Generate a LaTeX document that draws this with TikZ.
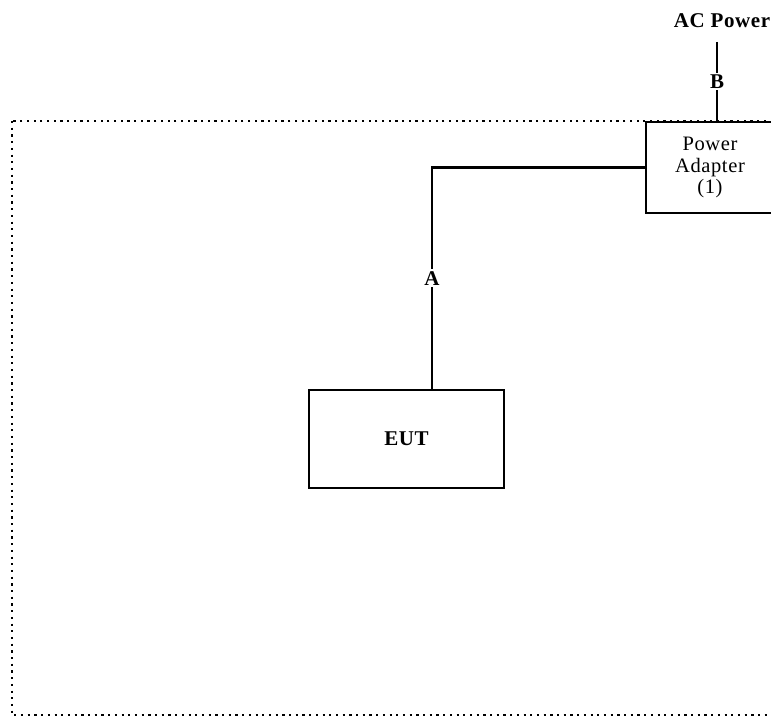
\documentclass[tikz,border=0pt]{standalone}
\usepackage{fontspec}
\setmainfont{Liberation Serif}[LetterSpace=3]
\usetikzlibrary{positioning}

\begin{document}
\begin{tikzpicture}[
    x=1pt, y=-1pt,
    unit/.style={rectangle, draw, line width=2.2pt, align=center},
    cable/.style={line width=2.2pt},
    lbl/.style={font=\fontsize{21}{22}\selectfont\bfseries, fill=white, inner sep=2pt},
    frame/.style={line width=2.2pt, dash pattern=on 2.2pt off 4.5pt}
]
\useasboundingbox (0,0) rectangle (771,717);

% Test area
\draw[frame] (12,121) rectangle (800,715);

% Equipment
\node[unit, minimum width=195pt, minimum height=98pt, font=\fontsize{21}{22}\selectfont\bfseries] (eut) at (406.5,439) {EUT};
\node[unit, fill=white, minimum width=128pt, minimum height=91pt, font=\fontsize{20.5}{21.5}\selectfont] (adapter) at (710,167.5) {Power\\Adapter\\(1)};
\node[font=\fontsize{21}{22}\selectfont\bfseries, inner sep=0pt] (acpower) at (722,21) {AC Power};

% Cables
\coordinate (bend) at (432,167.5);
\coordinate (btop) at (717,42);
\draw[cable] (eut.north -| bend) -- node[lbl] {A} (bend) -- (adapter.west);
\draw[cable] (btop) -- node[lbl] {B} (btop |- adapter.north);

\end{tikzpicture}
\end{document}
